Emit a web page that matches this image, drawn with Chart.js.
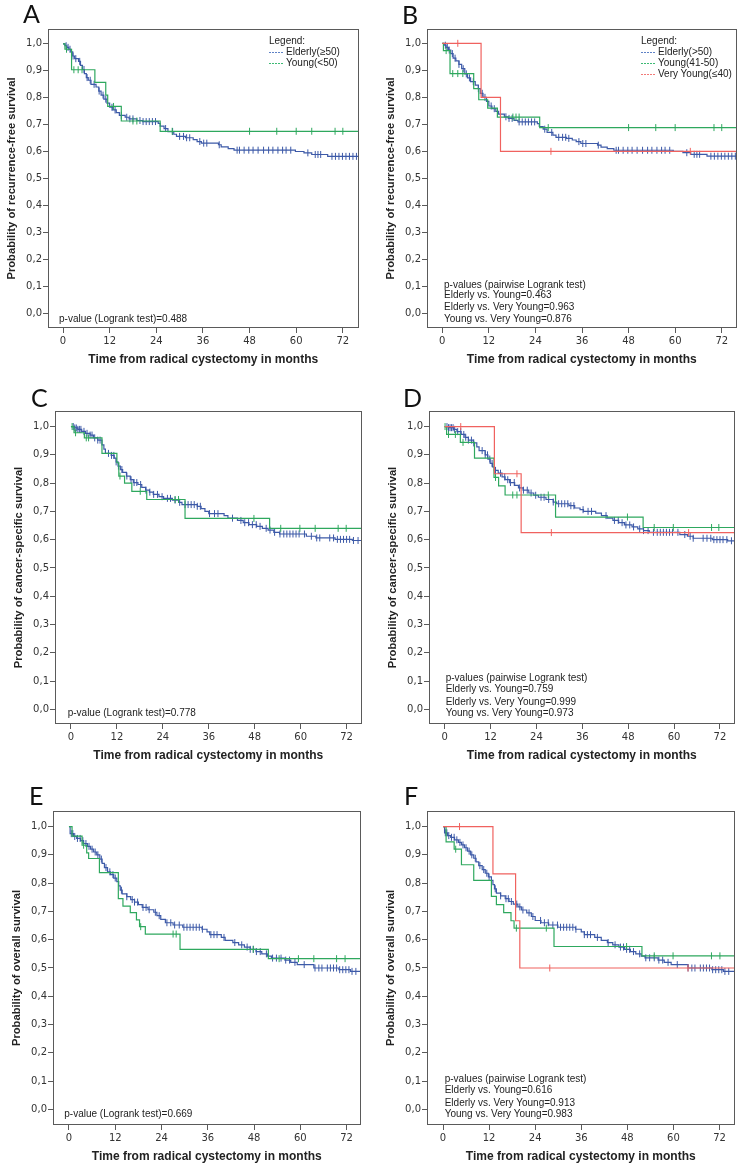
<!DOCTYPE html>
<html><head><meta charset="utf-8">
<script src="https://cdn.jsdelivr.net/npm/chart.js@4"></script>
<style>
body{margin:0;background:#fff;width:746px;height:1171px;position:relative;overflow:hidden;font-family:"Liberation Sans",Arial,sans-serif;}
.pc{position:absolute;}
.lt{position:absolute;font-family:Lato,"Open Sans",sans-serif;font-size:25px;line-height:25px;color:#111;}
.tx{position:absolute;font-size:10px;line-height:12px;color:#222;white-space:nowrap;}
.sw{position:absolute;height:1px;width:14px;}
</style></head><body>
<script>
// ---------- tick labels ----------
const xTickValues = [0, 12, 24, 36, 48, 60, 72];
const xTickLabels = ['0', '12', '24', '36', '48', '60', '72'];
const yTickValues = [0, 0.1, 0.2, 0.3, 0.4, 0.5, 0.6, 0.7, 0.8, 0.9, 1.0];
const yTickLabels = ['0,0', '0,1', '0,2', '0,3', '0,4', '0,5', '0,6', '0,7', '0,8', '0,9', '1,0'];

// ---------- A: recurrence-free survival, 2 groups ----------
const rfsElderlyA = [[0,1],[0.5,0.993],[1,0.987],[1.5,0.98],[2,0.97],[2.5,0.955],[3,0.945],[4,0.935],[4.5,0.92],[5,0.905],[5.5,0.89],[6,0.875],[6.5,0.865],[7.2,0.85],[8.5,0.84],[9.2,0.825],[9.8,0.81],[10.5,0.795],[11.3,0.78],[12,0.765],[12.8,0.755],[13.7,0.745],[14.5,0.735],[16,0.728],[17,0.722],[19,0.716],[20.5,0.712],[24.5,0.705],[25,0.695],[26,0.686],[27,0.675],[28.5,0.665],[29.2,0.657],[31.5,0.652],[33.5,0.645],[34.5,0.638],[35.6,0.632],[40,0.626],[40.7,0.618],[42.5,0.612],[44,0.606],[59.8,0.601],[62,0.596],[64,0.59],[68.1,0.583],[80,0.583]];
const rfsElderlyACens = [0.8,1.3,1.8,2.6,3.3,4.3,5.4,6.2,7.0,8.0,9.3,10.3,11.0,12.6,13.4,15.0,16.4,17.2,18.0,19.8,20.6,21.4,22.2,23.0,23.8,26.4,28.2,30.0,31.0,31.8,32.6,35.2,36.2,37.0,40.2,44.8,45.4,46.6,47.8,48.9,50.2,51.6,52.9,54.0,55.3,56.5,57.4,58.6,63.0,64.9,65.6,66.3,69.2,70.1,71.0,71.9,72.8,73.7,74.6,75.5];
const rfsYoungA = [[0,1],[0.5,0.98],[2.2,0.904],[8.2,0.857],[11.0,0.81],[11.5,0.768],[15.0,0.714],[25.0,0.676],[80,0.676]];
const rfsYoungACens = [0.9,2.8,3.9,4.9,13.0,18.0,19.0,28.1,48,55,60,64,70,72];

// ---------- B: recurrence-free survival, 3 groups ----------
const rfsElderlyB = [[0,1],[0.5,0.993],[1,0.985],[1.6,0.975],[2.2,0.962],[2.8,0.945],[3.5,0.935],[4.3,0.922],[5,0.906],[5.8,0.887],[6.5,0.872],[7.3,0.858],[8.5,0.845],[9.3,0.832],[9.8,0.815],[10.5,0.8],[11.4,0.785],[12,0.768],[12.8,0.758],[13.8,0.748],[14.5,0.738],[16,0.728],[17,0.722],[18.5,0.715],[19.5,0.709],[24.5,0.703],[25,0.692],[26,0.682],[27,0.67],[28.5,0.66],[29.3,0.652],[32,0.648],[33.5,0.642],[34.5,0.636],[35.7,0.629],[40,0.623],[40.9,0.616],[42.5,0.61],[44.2,0.604],[59.5,0.6],[62,0.595],[64,0.589],[68.2,0.582],[80,0.582]];
const rfsElderlyBCens = [0.8,1.3,1.8,2.6,3.3,4.3,5.4,6.2,7.0,8.0,9.3,10.3,11.0,12.6,13.4,15.0,16.4,17.2,18.0,19.8,20.6,21.4,22.2,23.0,23.8,26.4,28.2,30.0,31.0,31.8,32.6,35.2,36.2,37.0,40.2,44.8,45.4,46.6,47.8,48.9,50.2,51.6,52.9,54.0,55.3,56.5,57.4,58.6,63.0,64.9,65.6,66.3,69.2,70.1,71.0,71.9,72.8,73.7,74.6,75.5];
const rfsYoungB = [[0,1],[0.3,0.973],[2.0,0.888],[8.1,0.832],[9.4,0.791],[11.7,0.76],[14.2,0.727],[25.1,0.688],[80,0.688]];
const rfsYoungBCens = [1.0,2.7,4.0,5.3,18.2,19.0,19.8,27.3,48,55,60,70,72];
const rfsVeryYoungB = [[0,1],[10.0,0.8],[15.0,0.6],[80,0.6]];
const rfsVeryYoungBCens = [4.0,28.0,63.9];

// ---------- C: cancer-specific survival, 2 groups ----------
const cssElderlyC = [[0,1],[1.0,0.995],[1.8,0.99],[2.8,0.983],[3.8,0.976],[5.0,0.97],[5.9,0.96],[7.0,0.952],[8.1,0.935],[8.6,0.92],[9.0,0.905],[10.5,0.898],[11.3,0.888],[11.8,0.875],[12.3,0.86],[12.9,0.848],[13.5,0.838],[14.5,0.825],[15.5,0.812],[16.3,0.802],[17.5,0.795],[18.5,0.785],[19.5,0.775],[20.5,0.768],[21.5,0.76],[23,0.752],[24.2,0.746],[26.5,0.74],[28.2,0.732],[29,0.724],[33,0.718],[34,0.71],[35,0.7],[36,0.692],[40,0.685],[41,0.676],[43.5,0.668],[45,0.66],[46.5,0.653],[48.5,0.647],[50,0.64],[51.5,0.634],[53,0.626],[54.5,0.62],[61.5,0.612],[64,0.606],[69,0.601],[73.5,0.597],[80,0.597]];
const cssElderlyCCens = [0.6,1.0,1.4,1.8,2.2,2.6,3.4,4.2,5.0,5.5,6.2,7.0,7.6,9.8,10.6,11.2,11.8,12.4,13.3,14.6,15.7,16.5,17.2,18.2,19.6,20.6,21.6,22.6,23.8,25.2,26.0,27.2,28.4,29.8,30.6,31.4,32.2,33.0,33.8,36.2,37.5,38.4,42.2,44.4,45.4,46.4,47.4,48.4,49.4,51.0,52.0,53.2,54.6,55.6,56.4,57.2,58.0,58.8,59.6,61.0,62.8,64.2,65.0,67.6,68.6,69.6,70.4,71.2,72.0,72.8,73.8,75.0];
const cssYoungC = [[0,1],[0.8,0.978],[3.5,0.96],[8.1,0.905],[12.0,0.872],[12.5,0.825],[14.0,0.8],[15.9,0.771],[19.8,0.742],[29.8,0.675],[51.9,0.64],[80,0.64]];
const cssYoungCCens = [0.3,1.2,4.0,4.6,12.8,18.1,27.2,28.1,47.8,54.8,59.8,63.8,69.8,71.9];

// ---------- D: cancer-specific survival, 3 groups ----------
const cssElderlyD = [[0,1],[1.0,0.996],[2.3,0.99],[3.2,0.982],[4.3,0.972],[5.3,0.962],[6.2,0.952],[7.5,0.942],[8.4,0.928],[9,0.915],[10.6,0.9],[11.3,0.885],[11.9,0.87],[12.5,0.857],[13,0.845],[14,0.835],[15,0.822],[15.8,0.812],[17,0.802],[18.3,0.792],[19.3,0.783],[20.5,0.775],[22,0.765],[23.3,0.757],[24.5,0.75],[26.5,0.742],[28.4,0.733],[29.3,0.727],[32.5,0.72],[34,0.712],[35.4,0.706],[36.3,0.7],[39.5,0.694],[41,0.685],[42.5,0.676],[44,0.668],[45.5,0.66],[47,0.652],[49,0.645],[50.5,0.638],[52,0.632],[53.5,0.626],[61.5,0.618],[63.5,0.612],[65,0.605],[70,0.6],[74,0.596],[80,0.596]];
const cssElderlyDCens = [0.6,1.0,1.4,1.8,2.2,2.6,3.4,4.2,5.0,5.5,6.2,7.0,7.6,9.8,10.6,11.2,11.8,12.4,13.3,14.6,15.7,16.5,17.2,18.2,19.6,20.6,21.6,22.6,23.8,25.2,26.0,27.2,28.4,29.8,30.6,31.4,32.2,33.0,33.8,36.2,37.5,38.4,42.2,44.4,45.4,46.4,47.4,48.4,49.4,51.0,52.0,53.2,54.6,55.6,56.4,57.2,58.0,58.8,59.6,61.0,62.8,64.2,65.0,67.6,68.6,69.6,70.4,71.2,72.0,72.8,73.8,75.0];
const cssYoungD = [[0,1],[0.5,0.972],[4.1,0.944],[7.8,0.888],[12.9,0.82],[14.1,0.79],[15.8,0.758],[29.0,0.68],[51.9,0.643],[80,0.643]];
const cssYoungDCens = [0.1,1.0,2.8,4.8,13.3,17.8,18.9,27.1,47.8,54.8,59.8,69.8,71.7];
const cssVeryYoungD = [[0,1],[13.0,0.833],[20.0,0.625],[80,0.625]];
const cssVeryYoungDCens = [4.2,18.9,27.9,63.8];

// ---------- E: overall survival, 2 groups ----------
const osElderlyE = [[0,1],[0.3,0.975],[1.2,0.965],[2,0.958],[3,0.95],[3.8,0.94],[4.8,0.93],[5.6,0.92],[6.4,0.91],[7.2,0.9],[8,0.885],[8.6,0.87],[9.2,0.855],[10,0.84],[10.8,0.83],[11.6,0.818],[12.4,0.805],[12.9,0.79],[13.3,0.775],[13.8,0.762],[15,0.752],[16,0.742],[17,0.733],[18,0.724],[19,0.714],[20.5,0.706],[22,0.697],[22.8,0.685],[23.8,0.672],[25,0.66],[27,0.652],[29.5,0.644],[34.5,0.637],[35.8,0.628],[36.5,0.618],[39.5,0.608],[40.5,0.598],[42.5,0.59],[44,0.582],[45.5,0.574],[47,0.566],[48.5,0.558],[50,0.55],[51.5,0.542],[52.5,0.535],[56,0.528],[57.5,0.52],[59.2,0.512],[63.5,0.5],[70,0.494],[73,0.488],[80,0.488]];
const osElderlyECens = [0.6,1.0,1.5,2.2,2.9,3.6,4.4,5.2,6.0,6.8,7.5,8.4,9.6,10.6,11.4,12.0,13.6,15.0,16.4,17.0,17.8,19.2,20.0,20.8,22.4,23.4,25.4,26.4,27.4,28.6,29.8,30.6,31.4,32.2,33.0,33.8,34.6,36.8,37.6,38.4,40.2,43.0,44.8,46.2,47.0,47.8,48.6,49.6,51.2,52.8,53.8,55.0,56.2,57.2,58.6,61.0,63.8,64.8,65.6,67.0,67.8,68.6,69.4,70.2,71.0,71.8,72.6,73.4,74.4];
const osYoungE = [[0,1],[0.8,0.966],[3.4,0.934],[4.6,0.907],[5.1,0.887],[7.9,0.837],[12.8,0.745],[14.0,0.719],[15.9,0.696],[17.5,0.67],[18.3,0.646],[19.8,0.62],[28.8,0.566],[51.7,0.533],[80,0.533]];
const osYoungECens = [3.8,18.6,27.0,27.8,47.8,54.5,59.5,63.5,69.4,71.6];

// ---------- F: overall survival, 3 groups ----------
const osElderlyF = [[0,1],[0.4,0.978],[1.2,0.968],[2,0.962],[3,0.953],[4,0.944],[4.8,0.935],[5.6,0.925],[6.4,0.913],[7.2,0.9],[8,0.888],[8.6,0.875],[9.3,0.862],[10.2,0.848],[11,0.835],[11.8,0.822],[12.6,0.81],[13,0.795],[13.4,0.78],[13.9,0.765],[15,0.755],[16.2,0.745],[17.2,0.735],[18.3,0.726],[19.5,0.716],[20.4,0.705],[21.8,0.695],[23,0.682],[24,0.668],[25.5,0.66],[27.5,0.652],[29.9,0.644],[34.5,0.637],[36,0.628],[36.8,0.618],[39.5,0.608],[41.2,0.598],[42.8,0.59],[44.2,0.582],[45.8,0.574],[47.3,0.566],[48.8,0.558],[50.2,0.55],[51.6,0.542],[52.6,0.536],[56,0.528],[57.6,0.52],[59.4,0.512],[63.8,0.5],[70,0.494],[73,0.488],[80,0.488]];
const osElderlyFCens = [0.6,1.0,1.5,2.2,2.9,3.6,4.4,5.2,6.0,6.8,7.5,8.4,9.6,10.6,11.4,12.0,13.6,15.0,16.4,17.0,17.8,19.2,20.0,20.8,22.4,23.4,25.4,26.4,27.4,28.6,29.8,30.6,31.4,32.2,33.0,33.8,34.6,36.8,37.6,38.4,40.2,43.0,44.8,46.2,47.0,47.8,48.6,49.6,51.2,52.8,53.8,55.0,56.2,57.2,58.6,61.0,63.8,64.8,65.6,67.0,67.8,68.6,69.4,70.2,71.0,71.8,72.6,73.4,74.4];
const osYoungF = [[0,1],[0.8,0.946],[2.9,0.92],[4.8,0.865],[8.0,0.81],[12.6,0.753],[13.9,0.724],[15.8,0.696],[17.7,0.667],[18.5,0.641],[28.9,0.576],[51.8,0.543],[80,0.543]];
const osYoungFCens = [3.3,19.1,26.9,47.8,55.0,59.9,69.9,72.1];
const osVeryYoungF = [[0,1],[13.0,0.833],[18.9,0.667],[20.0,0.5],[80,0.5]];
const osVeryYoungFCens = [4.3,27.8,63.8];

// ---------- text ----------
const legend2 = ['Elderly(≥50)', 'Young(<50)'];
const legend3 = ['Elderly(>50)', 'Young(41-50)', 'Very Young(≤40)'];
const pA = ['p-value (Logrank test)=0.488'];
const pB = ['p-values (pairwise Logrank test)', 'Elderly vs. Young=0.463', 'Elderly vs. Very Young=0.963', 'Young vs. Very Young=0.876'];
const pC = ['p-value (Logrank test)=0.778'];
const pD = ['p-values (pairwise Logrank test)', 'Elderly vs. Young=0.759', 'Elderly vs. Very Young=0.999', 'Young vs. Very Young=0.973'];
const pE = ['p-value (Logrank test)=0.669'];
const pF = ['p-values (pairwise Logrank test)', 'Elderly vs. Young=0.616', 'Elderly vs. Very Young=0.913', 'Young vs. Very Young=0.983'];

// ---------- styling / layout ----------
const COL = {blue: '#3d5aa8', green: '#2ea85e', red: '#f0625f'};
const SW = {blue: '#5f82c6', green: '#3dba74', red: '#f27a78'};
const YW = 48, PT = 6, PR = 4, XH = 42;

const panels = [
  {letter:'A', lpos:[23,1], frame:[48,28,359,328], xr:[-3.86,76.03], yr:[-0.053,1.055], yt:'Probability of recurrence-free survival',
   groups:[[rfsElderlyA,rfsElderlyACens,'blue'],[rfsYoungA,rfsYoungACens,'green']], legend:legend2, lg:[269,41], pv:pA, pvx:59, pvy:[319.3]},
  {letter:'B', lpos:[402,2], frame:[427,28,737,328], xr:[-3.93,75.8], yr:[-0.054,1.053], yt:'Probability of recurrence-free survival',
   groups:[[rfsElderlyB,rfsElderlyBCens,'blue'],[rfsYoungB,rfsYoungBCens,'green'],[rfsVeryYoungB,rfsVeryYoungBCens,'red']], legend:legend3, lg:[641,40.7], pv:pB, pvx:444, pvy:[285,295.3,307.3,318.7]},
  {letter:'C', lpos:[31,385], frame:[55,410,362,724], xr:[-4.17,75.9], yr:[-0.052,1.055], yt:'Probability of cancer-specific survival',
   groups:[[cssElderlyC,cssElderlyCCens,'blue'],[cssYoungC,cssYoungCCens,'green']], legend:null, pv:pC, pvx:67.7, pvy:[713.3]},
  {letter:'D', lpos:[403,385], frame:[429,410,735,724], xr:[-4.1,75.8], yr:[-0.052,1.055], yt:'Probability of cancer-specific survival',
   groups:[[cssElderlyD,cssElderlyDCens,'blue'],[cssYoungD,cssYoungDCens,'green'],[cssVeryYoungD,cssVeryYoungDCens,'red']], legend:null, pv:pD, pvx:445.7, pvy:[677.7,689.3,701.7,713.3]},
  {letter:'E', lpos:[29,783], frame:[53,810,361,1125], xr:[-4.14,75.6], yr:[-0.055,1.055], yt:'Probability of overall survival',
   groups:[[osElderlyE,osElderlyECens,'blue'],[osYoungE,osYoungECens,'green']], legend:null, pv:pE, pvx:64.3, pvy:[1114.3]},
  {letter:'F', lpos:[404,783], frame:[427,810,735,1125], xr:[-4.17,75.9], yr:[-0.055,1.055], yt:'Probability of overall survival',
   groups:[[osElderlyF,osElderlyFCens,'blue'],[osYoungF,osYoungFCens,'green'],[osVeryYoungF,osVeryYoungFCens,'red']], legend:null, pv:pF, pvx:444.7, pvy:[1079,1090,1102.7,1114]}
];

function stepAt(steps, t) {
  let v = steps[0][1];
  for (const [x, y] of steps) { if (x <= t) v = y; else break; }
  return v;
}

const framePlugin = {
  id: 'frame',
  afterDraw(chart) {
    const {ctx, chartArea: a} = chart;
    ctx.save();
    ctx.strokeStyle = '#5a5a5a';
    ctx.lineWidth = 1;
    ctx.strokeRect(Math.round(a.left) + 0.5, Math.round(a.top) + 0.5, Math.round(a.right - a.left) - 1, Math.round(a.bottom - a.top) - 1);
    ctx.restore();
  }
};

function addDiv(cls, left, top, text, extra) {
  const d = document.createElement('div');
  d.className = cls;
  d.style.left = left + 'px';
  d.style.top = top + 'px';
  if (text !== null) d.textContent = text;
  if (extra) Object.assign(d.style, extra);
  document.body.appendChild(d);
  return d;
}

panels.forEach((p, pi) => {
  const [fl, ft, fr, fb] = p.frame;
  const box = addDiv('pc', fl - YW, ft - PT, null, {width: (fr - fl + YW + PR) + 'px', height: (fb - ft + PT + XH) + 'px'});
  const cv = document.createElement('canvas');
  box.appendChild(cv);

  const datasets = [];
  // later groups drawn on top -> put them first
  p.groups.slice().reverse().forEach(([steps, cens, c]) => {
    datasets.push({
      type: 'scatter', data: cens.map(t => ({x: t, y: stepAt(steps, t)})), showLine: false,
      pointStyle: 'line', pointRotation: 90, pointRadius: 3.5, pointHoverRadius: 3.5,
      pointBorderColor: COL[c], pointBackgroundColor: COL[c], pointBorderWidth: 1
    });
    datasets.push({
      type: 'line', data: steps.map(([x, y]) => ({x, y})), stepped: true,
      borderColor: COL[c], borderWidth: 1.2, pointRadius: 0, pointHoverRadius: 0, fill: false, tension: 0
    });
  });

  new Chart(cv, {
    type: 'line',
    data: {datasets},
    options: {
      responsive: true, maintainAspectRatio: false, animation: false, events: [],
      layout: {padding: {top: PT, right: PR, left: 0, bottom: 0}},
      plugins: {legend: {display: false}, tooltip: {enabled: false}},
      scales: {
        x: {
          type: 'linear', min: p.xr[0], max: p.xr[1],
          afterBuildTicks: s => { s.ticks = xTickValues.map(v => ({value: v})); },
          afterFit: s => { s.height = XH; },
          ticks: {autoSkip: false, maxRotation: 0, padding: 2, color: '#333', font: {family: 'DejaVu Sans', size: 10},
                  callback: (v, i) => xTickLabels[i]},
          grid: {drawOnChartArea: false, drawTicks: true, tickLength: 5, color: '#5a5a5a'},
          border: {display: false},
          title: {display: true, text: 'Time from radical cystectomy in months', color: '#222',
                  font: {family: 'Liberation Sans', size: 12, weight: 'bold'}, padding: {top: 0, bottom: 3.3}}
        },
        y: {
          type: 'linear', min: p.yr[0], max: p.yr[1],
          afterBuildTicks: s => { s.ticks = yTickValues.map(v => ({value: v})); },
          afterFit: s => { s.width = YW; },
          ticks: {autoSkip: false, padding: 1, color: '#333', font: {family: 'DejaVu Sans', size: 10},
                  callback: (v, i) => yTickLabels[i]},
          grid: {drawOnChartArea: false, drawTicks: true, tickLength: 5, color: '#5a5a5a'},
          border: {display: false},
          title: {display: true, text: p.yt, color: '#222',
                  font: {family: 'Liberation Sans', size: 11.2, weight: 'bold'}, padding: {top: 5.3, bottom: 0}}
        }
      }
    },
    plugins: [framePlugin]
  });

  addDiv('lt', p.lpos[0], p.lpos[1], p.letter);
  p.pv.forEach((t, i) => addDiv('tx', p.pvx, p.pvy[i] - 6, t));
  if (p.legend) {
    const [lx, ly] = p.lg;
    addDiv('tx', lx, ly - 6, 'Legend:');
    const cols = ['blue', 'green', 'red'];
    p.legend.forEach((t, i) => {
      const cy = ly + 11 + i * 11.3;
      addDiv('sw', lx, Math.round(cy), null, {background: `repeating-linear-gradient(to right, ${SW[cols[i]]} 0 2px, transparent 2px 3px)`});
      addDiv('tx', lx + 17, cy - 6, t);
    });
  }
});
</script>
</body></html>
